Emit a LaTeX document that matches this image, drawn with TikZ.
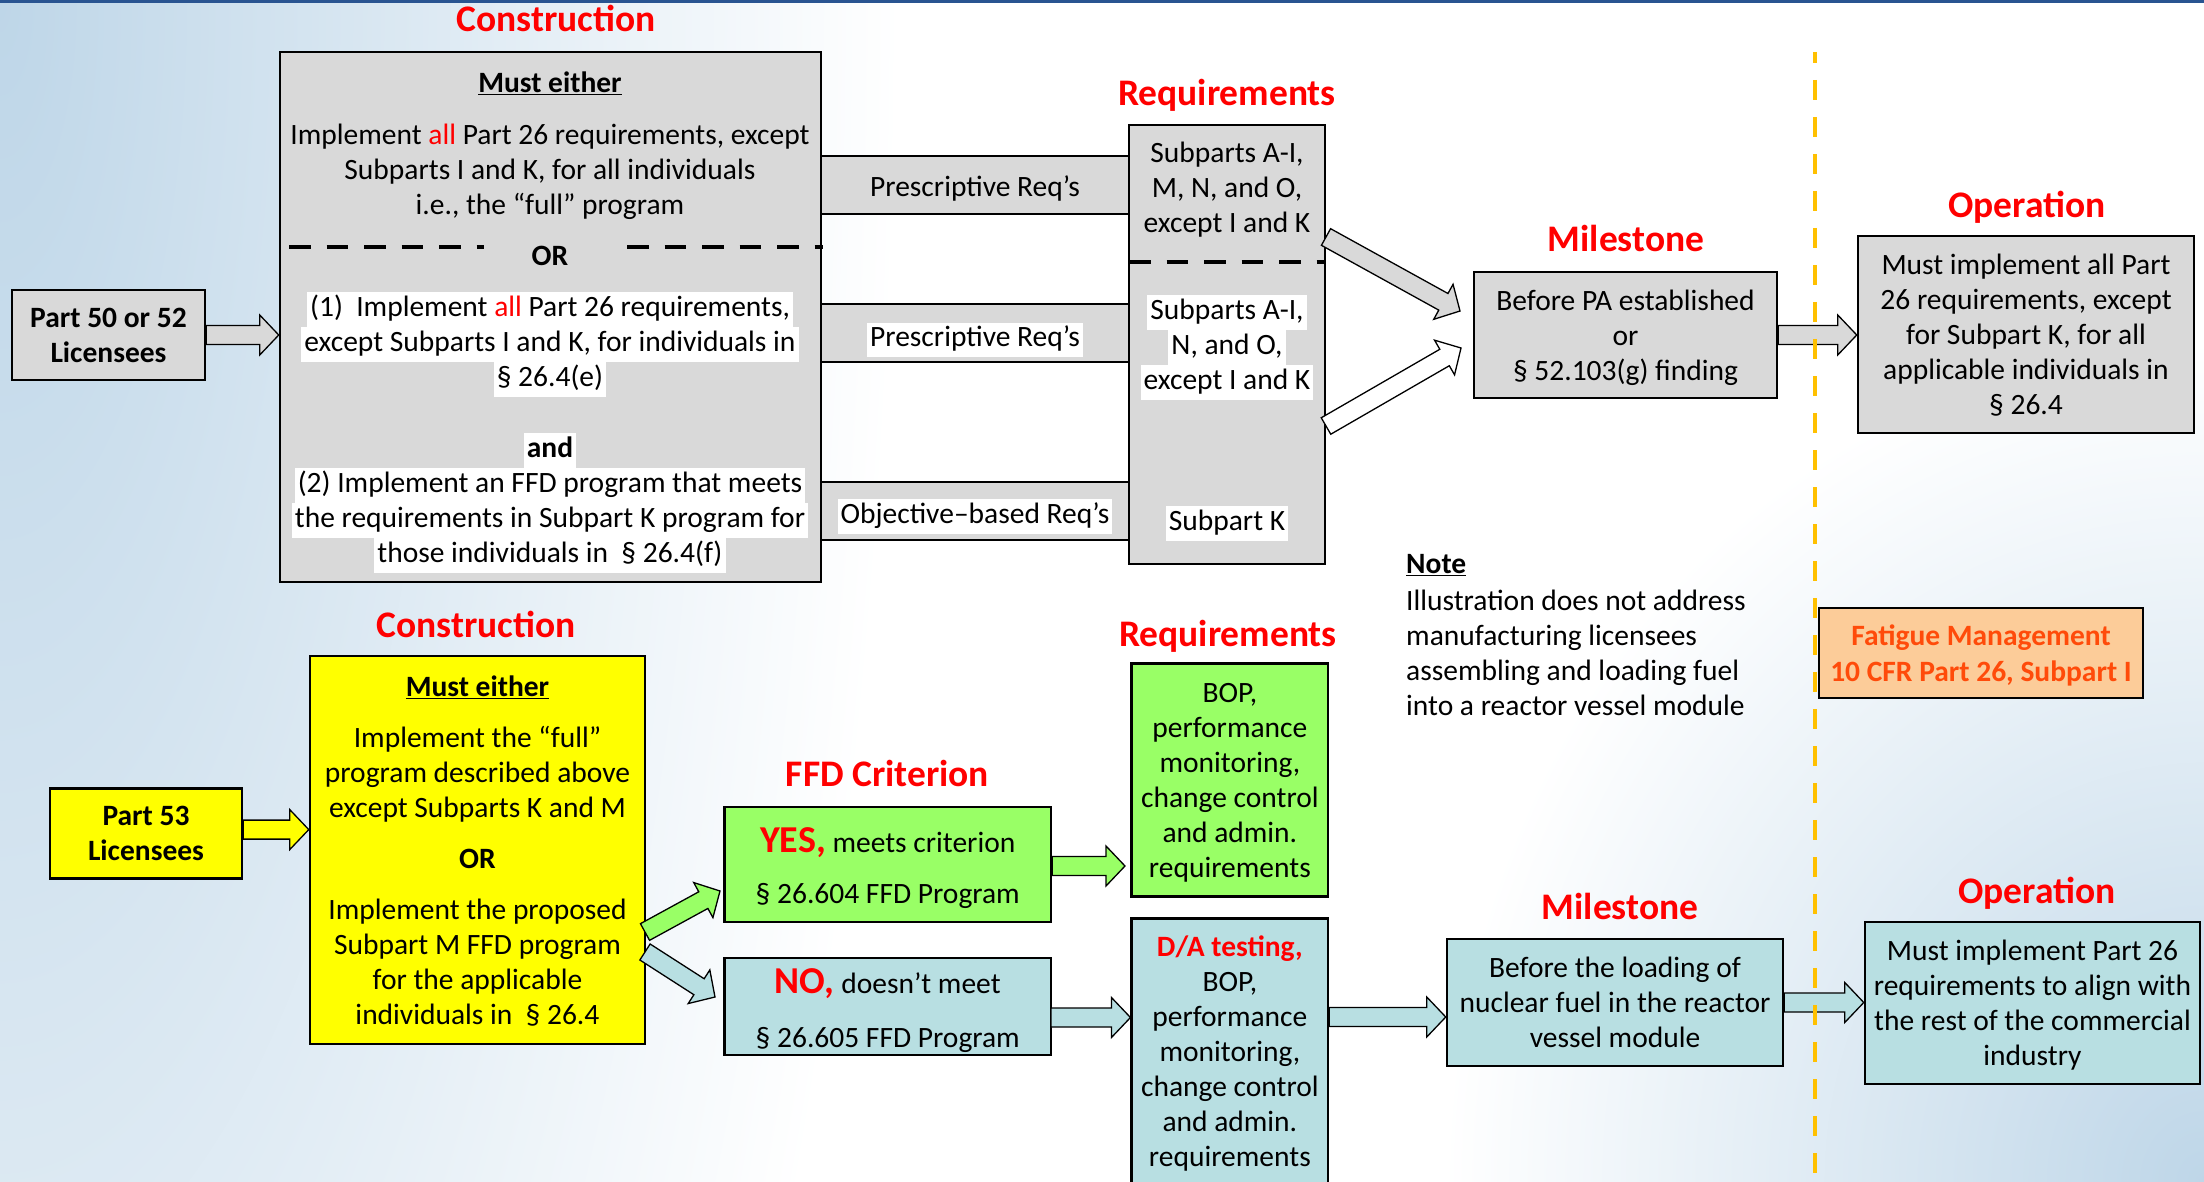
\documentclass[tikz,border=0pt]{standalone}
\usepackage{fontspec}
\setmainfont{Carlito}
\usetikzlibrary{calc}

\definecolor{boxgray}{RGB}{217,217,217}
\definecolor{ffdyellow}{RGB}{255,255,0}
\definecolor{ffdgreen}{RGB}{153,255,102}
\definecolor{ffdteal}{RGB}{184,223,226}
\definecolor{peach}{RGB}{252,204,153}
\definecolor{fatiguetext}{RGB}{255,75,10}
\definecolor{titlered}{RGB}{255,0,0}
\definecolor{divider}{RGB}{255,192,0}
\definecolor{topblue}{RGB}{41,84,145}
\definecolor{bgblue}{RGB}{190,214,232}

\newcommand{\wl}[1]{{\fboxsep=0pt\colorbox{white}{\kern3pt\strut#1\kern3pt}}}
\newcommand{\yesno}{\fontsize{38}{40}\selectfont\bfseries\color{titlered}}
\newcommand{\fatarrow}[3][]{%
  \coordinate (fa_h) at ($(#3)!19pt!(#2)$);
  \draw[fat_arrow,#1] ($(#2)!9.5pt!90:(#3)$) -- ($(fa_h)!9.5pt!90:(#3)$)
    -- ($(fa_h)!20pt!90:(#3)$) -- (#3) -- ($(fa_h)!20pt!-90:(#3)$)
    -- ($(fa_h)!9.5pt!-90:(#3)$) -- ($(#2)!9.5pt!-90:(#3)$) -- cycle;}

\begin{document}
\begin{tikzpicture}[
  x=1pt, y=-1pt,
  every node/.style={inner sep=0pt, align=center,
    font=\fontsize{29.5}{35}\selectfont},
  txt/.style={execute at begin node=\strut, execute at end node=\strut},
  stage_title/.style={txt, font=\fontsize{37.5}{40}\selectfont\bfseries, text=titlered},
  plain_box/.style={draw=black, line width=2.5pt, text depth=0pt},
  gray_box/.style={plain_box, fill=boxgray},
  yellow_box/.style={plain_box, fill=ffdyellow},
  green_box/.style={plain_box, fill=ffdgreen},
  teal_box/.style={plain_box, fill=ffdteal},
  req_band/.style={draw=black, line width=2pt, fill=boxgray,
    minimum width=308pt, minimum height=58pt},
  split_line/.style={line width=4.6pt, dash pattern=on 21.5pt off 16pt},
  divider_line/.style={draw=divider, line width=4.5pt, dash pattern=on 20pt off 17pt, dash phase=9pt},
  fat_arrow/.style={draw=black, line width=1.3pt, line join=miter}
  ]
  %
  \useasboundingbox (0,0) rectangle (2204,1182);
  \clip (0,0) rectangle (2204,1182);
  \fill[white] (0,0) rectangle (2204,1182);
  \shade[inner color=bgblue, outer color=white] (0,0) ellipse [x radius=900pt, y radius=2600pt];
  \shade[inner color=bgblue, outer color=white] (2204,1182) ellipse [x radius=760pt, y radius=840pt];
  \fill[topblue] (0,0) rectangle (2204,3);
  %
  \node[stage_title] (con_top) at (556,24) {Construction};
  \node[stage_title] (req_top) at (1227,98) {Requirements};
  \node[stage_title] (mil_top) at (1626,243.5) {Milestone};
  \node[stage_title] (op_top) at (2027,210) {Operation};
  \node[stage_title] (con_bot) at (476,629.5) {Construction};
  \node[stage_title] (ffd_title) at (887.5,778.5) {FFD Criterion};
  \node[stage_title] (req_bot) at (1228,638.5) {Requirements};
  \node[stage_title] (mil_bot) at (1620,911) {Milestone};
  \node[stage_title] (op_bot) at (2037,895.5) {Operation};
  %
  \foreach \y/\ty/\txt/\nm in {185/189.5/{Prescriptive Req’s}/band_a,
      333/340/{\wl{Prescriptive Req’s}}/band_b,
      510.5/516/{\wl{Objective–based Req’s}}/band_c} {
    \node[req_band] (\nm) at (975,\y) {};
    \node[txt] (\nm_txt) at (975,\ty) {\txt};
  }
  %
  \node[gray_box, minimum width=193pt, minimum height=90pt] (p50) at (108.5,335)
    {\textbf{Part 50 or 52}\\\textbf{Licensees}};
  \node[gray_box, minimum width=541pt, minimum height=530pt] (must_top) at (550.5,317) {};
  \node[txt] (must_head) at (550,86) {\underline{\textbf{Must either}}};
  \node[txt] (full_opt) at (550,175)
    {Implement \textcolor{titlered}{all} Part 26 requirements, except\\
     Subparts I and K, for all individuals\\i.e., the “full” program};
  \draw[split_line] (289,247) -- (484,247);
  \draw[split_line] (627,247) -- (823,247);
  \node[txt] (or_top) at (550,259) {\textbf{OR}};
  \node[txt] (opt_one) at (550,344)
    {\wl{(1)\ \ Implement \textcolor{titlered}{all} Part 26 requirements,}\\
     \wl{except Subparts I and K, for individuals in}\\\wl{§ 26.4(e)}};
  \node[txt] (and_top) at (550,450) {\wl{\textbf{and}}};
  \node[txt] (opt_two) at (550,520)
    {\wl{(2) Implement an FFD program that meets}\\
     \wl{the requirements in Subpart K program for}\\
     \wl{those individuals in\ \ § 26.4(f)}};
  %
  \node[gray_box, minimum width=196pt, minimum height=439pt] (req_box) at (1227,344.5) {};
  \node[txt] (req_all) at (1227,193) {Subparts A-I,\\M, N, and O,\\except I and K};
  \draw[split_line] (1129,262) -- (1325,262);
  \node[txt] (req_part) at (1227,347.5) {\wl{Subparts A-I,}\\\wl{N, and O,}\\\wl{except I and K}};
  \node[txt] (req_k) at (1227,523) {\wl{Subpart K}};
  %
  \node[gray_box, minimum width=303pt, minimum height=126pt] (mil_box) at (1625.5,335)
    {Before PA established\\or\\§ 52.103(g) finding};
  \node[gray_box, minimum width=336pt, minimum height=197pt] (op_box) at (2026,334.5)
    {Must implement all Part\\26 requirements, except\\for Subpart K, for all\\
     applicable individuals in\\§ 26.4};
  \node[txt, anchor=west, align=left] (note) at (1406,640)
    {\underline{\textbf{Note}}\\[2pt]Illustration does not address\\manufacturing licensees\\
     assembling and loading fuel\\into a reactor vessel module};
  \node[plain_box, fill=peach, minimum width=324pt, minimum height=90pt,
    text=fatiguetext, font=\fontsize{29.5}{36}\selectfont\bfseries] (fatigue) at (1981,653)
    {Fatigue Management\\10 CFR Part 26, Subpart I};
  %
  \node[yellow_box, minimum width=192pt, minimum height=90pt] (p53) at (146,833.6)
    {\textbf{Part 53}\\\textbf{Licensees}};
  \node[yellow_box, minimum width=335pt, minimum height=388pt] (must_bot) at (477.5,850)
    {\underline{\textbf{Must either}}\\[16pt]Implement the “full”\\program described above\\
     except Subparts K and M\\[16pt]\textbf{OR}\\[16pt]Implement the proposed\\
     Subpart M FFD program\\for the applicable\\individuals in\ \ § 26.4};
  \node[green_box, minimum width=326.5pt, minimum height=115pt] (yes_box) at (887.75,864.5) {};
  \node[txt] (yes_txt) at (887.75,870.5) {{\yesno YES,} meets criterion\\[16pt]§ 26.604 FFD Program};
  \node[teal_box, minimum width=326.5pt, minimum height=97pt] (no_box) at (887.75,1006.5) {};
  \node[txt] (no_txt) at (887.75,1013.5) {{\yesno NO,} doesn’t meet\\[19pt]§ 26.605 FFD Program};
  \node[green_box, minimum width=196.3pt, minimum height=233pt] (bop_box) at (1229.85,780.2)
    {BOP,\\performance\\monitoring,\\change control\\and admin.\\requirements};
  \node[teal_box, minimum width=196.3pt, minimum height=266pt] (da_box) at (1229.85,1051.6)
    {\textcolor{titlered}{\textbf{D/A testing,}}\\BOP,\\performance\\monitoring,\\
     change control\\and admin.\\requirements};
  \node[teal_box, minimum width=336pt, minimum height=127pt] (mil_bot_box) at (1615,1002.5)
    {Before the loading of\\nuclear fuel in the reactor\\vessel module};
  \node[teal_box, minimum width=335pt, minimum height=162pt] (op_bot_box) at (2032.5,1003)
    {Must implement Part 26\\requirements to align with\\the rest of the commercial\\industry};
  %
  \coordinate (p50_tip) at (p50.east -| must_top.west);
  \coordinate (req_out_a) at (1326,237);
  \coordinate (mil_in_a) at (1460,311);
  \coordinate (req_out_b) at (1326,426);
  \coordinate (mil_in_b) at (1461,348);
  \coordinate (op_tip) at (mil_box.east -| op_box.west);
  \coordinate (p53_out) at ([yshift=4pt]p53.east);
  \coordinate (p53_tip) at (p53_out -| must_bot.west);
  \coordinate (ffd_out_a) at (645,932);
  \coordinate (yes_in) at (720,891);
  \coordinate (ffd_out_b) at (645,952);
  \coordinate (no_in) at (715,997);
  \coordinate (yes_tip) at (1125,866);
  \coordinate (yes_out) at (yes_box.east |- yes_tip);
  \coordinate (no_out) at (1051,1017.5);
  \coordinate (no_tip) at (no_out -| da_box.west);
  \coordinate (da_out) at (da_box.east |- 0,1017);
  \coordinate (da_tip) at (da_out -| mil_bot_box.west);
  \coordinate (op_bot_tip) at (mil_bot_box.east -| op_bot_box.west);
  %
  \fatarrow[fill=boxgray]{p50.east}{p50_tip}
  \fatarrow[fill=boxgray]{req_out_a}{mil_in_a}
  \fatarrow[fill=white]{req_out_b}{mil_in_b}
  \fatarrow[fill=boxgray]{mil_box.east}{op_tip}
  \fatarrow[fill=ffdyellow]{p53_out}{p53_tip}
  \fatarrow[fill=ffdgreen]{ffd_out_a}{yes_in}
  \fatarrow[fill=ffdteal]{ffd_out_b}{no_in}
  \fatarrow[fill=ffdgreen]{yes_out}{yes_tip}
  \fatarrow[fill=ffdteal]{no_out}{no_tip}
  \fatarrow[fill=ffdteal]{da_out}{da_tip}
  \fatarrow[fill=ffdteal]{mil_bot_box.east}{op_bot_tip}
  %
  \draw[divider_line] (1815,52) -- (1815,1182);
\end{tikzpicture}
\end{document}
